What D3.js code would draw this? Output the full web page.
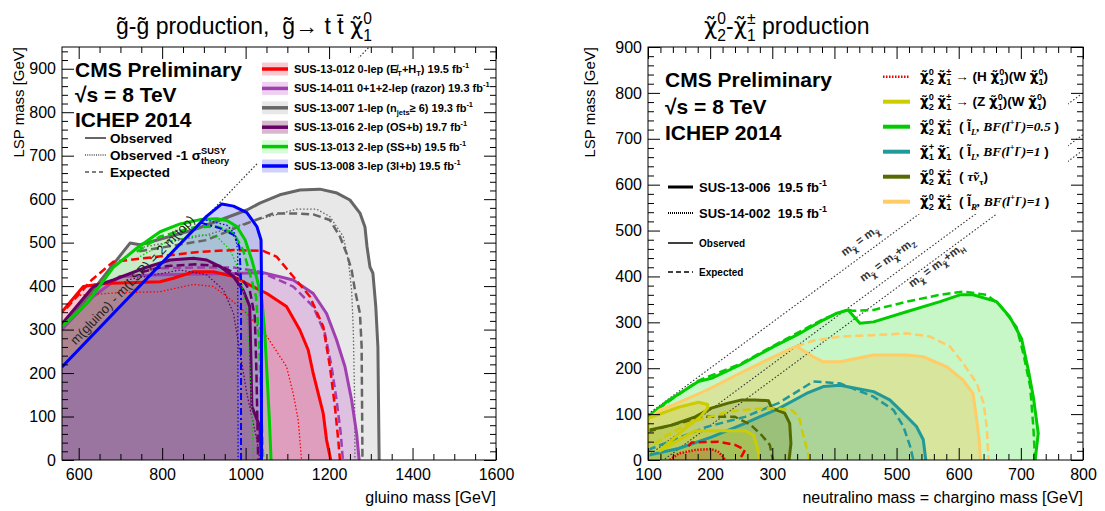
<!DOCTYPE html>
<html>
<head>
<meta charset="utf-8">
<script src="https://cdn.jsdelivr.net/npm/d3@7"></script>
<style>
  body { margin: 0; background: #fff; }
  svg { font-family: "Liberation Sans", Arial, sans-serif; }
</style>
</head>
<body>
<div id="chart"></div>
<script>
// ---------- data: gluino pair production (left) ----------
var leftXTicks = [600, 800, 1000, 1200, 1400, 1600];
var leftYTicks = [0, 100, 200, 300, 400, 500, 600, 700, 800, 900];
var twoTopMass = 346;   // m(gluino) - m(LSP) = 2 m(top)

var red13012Obs = [[560,341],[611,399],[659,406],[795,410],[827,418],[875,433],[923,433],[971,422],[1003,406],[1051,383],[1098,353],[1130,299],[1150,253],[1162,199],[1174,153],[1186,107],[1194,46],[1204,0]];
var red13012Exp = [[571,349],[631,414],[683,456],[755,464],[891,479],[971,483],[1042,481],[1074,468],[1114,422],[1154,376],[1186,307],[1202,215],[1214,123],[1222,46],[1226,0]];
var red13012Dot = [[603,379],[700,385],[795,387],[875,404],[923,399],[955,376],[1003,337],[1051,284],[1098,215],[1114,153],[1126,92],[1134,0]];

var razor14011Obs = [[560,301],[635,376],[699,422],[795,426],[971,429],[1042,431],[1114,414],[1162,383],[1194,337],[1218,276],[1238,215],[1254,138],[1266,61],[1272,0]];
var razor14011Exp = [[740,438],[795,441],[891,443],[971,443],[1034,433],[1114,399],[1162,353],[1190,291],[1206,215],[1218,138],[1228,61],[1233,0]];

var gray13007Obs = [[560,300],[723,499],[747,495],[874,529],[939,552],[1003,575],[1034,591],[1082,610],[1130,621],[1178,623],[1219,614],[1250,598],[1274,568],[1286,536],[1291,490],[1298,444],[1305,430],[1312,352],[1317,260],[1320,0]];
var gray13007Exp = [[745,480],[907,506],[1002,544],[1066,567],[1122,567],[1162,565],[1202,552],[1226,514],[1242,475],[1254,437],[1262,391],[1274,337],[1278,261],[1280,0]];
var gray13007Dot = [[747,488],[907,518],[1042,556],[1122,577],[1170,577],[1202,560],[1234,514],[1246,460],[1254,391],[1258,300],[1261,150],[1262,0]];

var os13016Obs = [[560,313],[635,399],[683,414],[755,441],[819,460],[875,464],[907,460],[939,445],[971,422],[994,391],[1010,353],[1012,261],[1015,123],[1034,77],[1038,0]];
var os13016Exp = [[750,432],[811,446],[880,450],[940,446],[985,425],[1010,390],[1022,330],[1026,200],[1030,0]];
var os13016Dot = [[715,414],[843,437],[907,426],[947,391],[971,337],[987,245],[1003,153],[1027,46],[1034,0]];

var ss13013Obs = [[560,307],[619,360],[683,443],[739,487],[795,525],[843,543],[891,553],[931,555],[955,551],[979,537],[999,506],[1015,460],[1028,414],[1039,368],[1046,291],[1052,184],[1057,92],[1061,0]];
var ss13013Exp = [[739,479],[795,514],[875,535],[931,537],[971,522],[994,483],[1010,429],[1025,376],[1033,261],[1038,107],[1042,0]];
var ss13013Dot = [[747,468],[811,502],[891,518],[931,514],[963,483],[987,429],[1003,337],[1012,184],[1019,0]];

var tri13008Obs = [[560,214],[907,561],[943,589],[971,584],[1003,569],[1027,537],[1037,506],[1038,414],[1038,0]];
var tri13008Exp = [[892,546],[939,533],[971,518],[985,491],[989,414],[989,0]];
var tri13008Dot = [[905,552],[955,540],[975,520],[981,480],[982,0]];

var leftLegendIds = ["SUS-13-012", "SUS-14-011", "SUS-13-007", "SUS-13-016", "SUS-13-013", "SUS-13-008"];
var leftLegendLumi = ["19.5", "19.3", "19.3", "19.7", "19.5", "19.5"];

// ---------- data: chargino-neutralino production (right) ----------
var rightXTicks = [100, 200, 300, 400, 500, 600, 700, 800];
var rightYTicks = [0, 100, 200, 300, 400, 500, 600, 700, 800, 900];
var diagOffsets = [0, 91, 125];   // m = m, m + mZ, m + mH

var slepLObs = [[100,94],[130,127],[181,171],[202,178],[248,207],[302,247],[339,272],[382,305],[404,320],[422,327],[441,298],[463,301],[516,323],[570,345],[602,360],[623,360],[661,345],[682,312],[701,265],[712,196],[720,138],[728,58],[723,0]];
var slepLExp = [[100,96],[181,173],[248,209],[302,249],[382,307],[422,328],[430,325],[463,327],[516,345],[570,360],[607,367],[645,360],[666,338],[693,290],[704,232],[715,160],[720,73],[723,0]];
var slepRObs = [[100,87],[119,109],[141,120],[194,152],[248,189],[302,225],[339,248],[366,225],[382,214],[409,214],[463,229],[516,229],[543,225],[581,203],[607,174],[623,145],[629,87],[633,44],[635,0]];
var slepRExp = [[339,248],[366,260],[409,269],[463,272],[516,276],[554,269],[586,247],[607,211],[629,167],[640,124],[645,73],[648,0]];
var charObs = [[100,10],[149,25],[202,50],[256,80],[310,112],[355,145],[382,160],[409,163],[436,156],[463,149],[489,131],[511,102],[532,73],[543,44],[547,0]];
var charExp = [[100,22],[194,72],[256,94],[310,124],[366,171],[409,167],[463,138],[495,109],[511,73],[522,29],[527,0]];
var tauObs = [[100,65],[138,76],[176,94],[202,113],[229,124],[251,131],[272,131],[294,129],[299,113],[320,102],[328,80],[330,36],[327,0]];
var tauExp = [[100,62],[149,80],[192,94],[216,94],[240,94],[264,78],[283,54],[296,33],[301,0]];
var wzObs = [[100,0],[100,91],[149,115],[181,126],[196,121],[196,113],[184,94],[154,62],[127,30],[119,20],[176,64],[256,64],[270,54],[277,22],[280,0]];
var wzExp = [[110,35],[127,51],[170,83],[229,105],[267,111],[299,113],[331,109],[343,94],[348,65],[354,33],[360,0]];
var whObs = [[135,0],[149,14],[176,22],[202,24],[213,18],[221,7],[224,0]];
var whExp = [[165,30],[170,38],[213,40],[240,33],[256,22],[251,9],[246,0]];

// ---------- drawing ----------
var svg = d3.select("#chart").append("svg").attr("width", 1105).attr("height", 511);
var GREEKFONT = "DejaVu Sans";
var CHI = {t: "\u03C7\u0303", f: GREEKFONT};
var SP2 = "\u00A0\u00A0";

// text with super/subscripts; {ss:[sup,sub]} stacks them
function rich(sel, parts, fs) {
  var cur = 0;
  parts.forEach(function(p) {
    if (typeof p === "string") p = {t: p};
    if (p.ss) {
      var t1 = sel.append("tspan").text(p.ss[0]).attr("font-size", fs * 0.68).attr("dy", -0.45 * fs - cur);
      var w = t1.node().getComputedTextLength();
      sel.append("tspan").text(p.ss[1]).attr("font-size", fs * 0.68).attr("dx", -w).attr("dy", 0.75 * fs);
      cur = 0.3 * fs;
      return;
    }
    var target = p.s === "sup" ? -0.45 * fs : p.s === "sub" ? 0.3 * fs : 0;
    var ts = sel.append("tspan").text(p.t).attr("dy", target - cur);
    if (p.s) ts.attr("font-size", fs * 0.68);
    if (p.f) ts.attr("font-family", p.f);
    if (p.i) ts.attr("font-style", "italic");
    if (p.w) ts.attr("font-weight", p.w);
    cur = target;
  });
}

function frame(g, x, y, xMajor, xStep, yMajor, yStep) {
  var xr = x.range(), yr = y.range(), xd = x.domain(), yd = y.domain();
  var xMinor = d3.range(Math.ceil(xd[0] / xStep) * xStep, xd[1] + 1e-6, xStep).filter(function(v) { return xMajor.indexOf(v) < 0; });
  var yMinor = d3.range(Math.ceil(yd[0] / yStep) * yStep, yd[1] + 1e-6, yStep).filter(function(v) { return yMajor.indexOf(v) < 0; });
  function add(axis, tr, vals, size, labels, pad) {
    var a = g.append("g").attr("transform", tr)
      .call(axis.tickValues(vals).tickSize(-size).tickPadding(pad || 3)
        .tickFormat(labels ? d3.format("d") : function() { return ""; }));
    a.select(".domain").remove();
    a.attr("font-size", 16).attr("font-family", null);
    a.selectAll("line").attr("stroke", "#000");
    a.selectAll("text").attr("fill", "#000");
  }
  add(d3.axisBottom(x), "translate(0," + yr[0] + ")", xMajor, 12, true, 9);
  add(d3.axisBottom(x), "translate(0," + yr[0] + ")", xMinor, 6, false);
  add(d3.axisTop(x), "translate(0," + yr[1] + ")", xMajor, 12, false);
  add(d3.axisTop(x), "translate(0," + yr[1] + ")", xMinor, 6, false);
  add(d3.axisLeft(y), "translate(" + xr[0] + ",0)", yMajor, 12, true, 6);
  add(d3.axisLeft(y), "translate(" + xr[0] + ",0)", yMinor, 6, false);
  add(d3.axisRight(y), "translate(" + xr[1] + ",0)", yMajor, 12, false);
  add(d3.axisRight(y), "translate(" + xr[1] + ",0)", yMinor, 6, false);
  g.append("rect").attr("x", xr[0]).attr("y", yr[1]).attr("width", xr[1] - xr[0]).attr("height", yr[0] - yr[1])
    .attr("fill", "none").attr("stroke", "#000").attr("stroke-width", 1);
}

var dashes = {obs: null, exp: "8,4", dot: "1.5,2", dashdot: "7,3,2,3"};

function fillArea(p, line, pts, x0, color, op) {
  var closed = x0 == null ? pts : pts.concat([[x0, 0], [x0, pts[0][1]]]);
  p.append("path").attr("d", line(closed) + "Z").attr("fill", color).attr("fill-opacity", op).attr("stroke", "none");
}
function stroke(p, line, pts, color, kind, w) {
  p.append("path").attr("d", line(pts)).attr("fill", "none").attr("stroke", color)
    .attr("stroke-width", w).attr("stroke-dasharray", dashes[kind]).attr("stroke-linejoin", "round");
}

// ===== left panel =====
var xL = d3.scaleLinear().domain([560, 1600]).range([62, 496]);
var yL = d3.scaleLinear().domain([0, 950]).range([460, 47]);
var lineL = d3.line().x(function(d) { return xL(d[0]); }).y(function(d) { return yL(d[1]); });
var gL = svg.append("g");
gL.append("clipPath").attr("id", "clipL").append("rect")
  .attr("x", 62).attr("y", 47).attr("width", 434).attr("height", 413);
var pL = gL.append("g").attr("clip-path", "url(#clipL)");

var colL = {red: "#ff0000", razor: "#a040b0", gray: "#666666", os: "#660066", ss: "#00cc00", tri: "#0000ff"};
var fillL = {red: "rgb(230,80,110)", razor: "rgb(200,100,210)", gray: "rgb(200,200,200)", os: "rgb(130,40,100)", ss: "rgb(100,245,100)", tri: "rgb(100,100,245)"};
var opL = {red: 0.3, razor: 0.3, gray: 0.42, os: 0.33, ss: 0.25, tri: 0.3};

fillArea(pL, lineL, gray13007Obs, 560, fillL.gray, opL.gray);
fillArea(pL, lineL, razor14011Obs, 560, fillL.razor, opL.razor);
fillArea(pL, lineL, red13012Obs, 560, fillL.red, opL.red);
fillArea(pL, lineL, ss13013Obs, 560, fillL.ss, opL.ss);
fillArea(pL, lineL, tri13008Obs, 560, fillL.tri, opL.tri);
fillArea(pL, lineL, os13016Obs, 560, fillL.os, opL.os);

// kinematic limit
stroke(pL, lineL, [[560, 560 - twoTopMass], [950 + twoTopMass, 950]], "#333", "dot", 1.2);

stroke(pL, lineL, gray13007Dot, colL.gray, "dot", 1.3);
stroke(pL, lineL, gray13007Exp, colL.gray, "exp", 2.5);
stroke(pL, lineL, gray13007Obs, colL.gray, "obs", 3);
stroke(pL, lineL, razor14011Exp, colL.razor, "exp", 2.5);
stroke(pL, lineL, razor14011Obs, colL.razor, "obs", 3);
stroke(pL, lineL, red13012Dot, colL.red, "dot", 1.3);
stroke(pL, lineL, red13012Exp, colL.red, "exp", 2.5);
stroke(pL, lineL, red13012Obs, colL.red, "obs", 3);
stroke(pL, lineL, os13016Dot, colL.os, "dot", 1.3);
stroke(pL, lineL, os13016Exp, colL.os, "exp", 2.5);
stroke(pL, lineL, os13016Obs, colL.os, "obs", 3);
stroke(pL, lineL, ss13013Dot, colL.ss, "dot", 1.3);
stroke(pL, lineL, ss13013Exp, colL.ss, "exp", 2.5);
stroke(pL, lineL, ss13013Obs, colL.ss, "obs", 3);
stroke(pL, lineL, tri13008Dot, colL.tri, "dot", 1.3);
stroke(pL, lineL, tri13008Exp, colL.tri, "dashdot", 2);
stroke(pL, lineL, tri13008Obs, colL.tri, "obs", 3);

// label along the kinematic limit
(function() {
  var ax = 745, ay = ax - twoTopMass;
  var ang = Math.atan2(yL(ay + 100) - yL(ay), xL(ax + 100) - xL(ax)) * 180 / Math.PI;
  pL.append("text").attr("transform", "translate(" + xL(ax) + "," + yL(ay) + ") rotate(" + ang + ") translate(0,-5)")
    .attr("text-anchor", "middle").attr("font-size", 13).attr("fill", "#222")
    .text("m(gluino) - m(LSP) = 2 m(top)");
})();

// legend box (covers the diagonal)
gL.append("rect").attr("x", 258).attr("y", 58).attr("width", 236).attr("height", 118).attr("fill", "#fff");

frame(gL, xL, yL, leftXTicks, 50, leftYTicks, 20);

// analysis legend
var keysL = ["red", "razor", "gray", "os", "ss", "tri"];
var descL = [
  [" 0-lep (", "E\u0338", {t: "T", s: "sub"}, "+H", {t: "T", s: "sub"}, ")"],
  [" 0+1+2-lep (razor)"],
  [" 1-lep (n", {t: "jets", s: "sub"}, "\u2265 6)"],
  [" 2-lep (OS+b)"],
  [" 2-lep (SS+b)"],
  [" 3-lep (3l+b)"]
];
keysL.forEach(function(k, i) {
  var cy = 69 + i * 19.4;
  gL.append("rect").attr("x", 262).attr("y", cy - 6.5).attr("width", 26).attr("height", 13)
    .attr("fill", fillL[k]).attr("fill-opacity", opL[k]);
  gL.append("line").attr("x1", 262).attr("x2", 288).attr("y1", cy).attr("y2", cy)
    .attr("stroke", colL[k]).attr("stroke-width", 3.5);
  var t = gL.append("text").attr("x", 294).attr("y", cy + 4).attr("font-size", 11).attr("font-weight", "bold");
  rich(t, [leftLegendIds[i]].concat(descL[i]).concat([" " + leftLegendLumi[i] + " fb", {t: "-1", s: "sup"}]), 11);
});

gL.append("text").attr("x", 75).attr("y", 77).attr("font-size", 21).attr("font-weight", "bold").text("CMS Preliminary");
gL.append("text").attr("x", 75).attr("y", 102).attr("font-size", 21).attr("font-weight", "bold").text("\u221As = 8 TeV");
gL.append("text").attr("x", 75).attr("y", 127).attr("font-size", 21).attr("font-weight", "bold").text("ICHEP 2014");
[["obs", 138], ["dot", 155], ["exp", 172]].forEach(function(r) {
  gL.append("line").attr("x1", 85).attr("x2", 106).attr("y1", r[1]).attr("y2", r[1]).attr("stroke", "#000")
    .attr("stroke-width", 1.2).attr("stroke-dasharray", r[0] === "exp" ? "4,3" : r[0] === "dot" ? "1,1.2" : null);
});
gL.append("text").attr("x", 110).attr("y", 143).attr("font-size", 13.5).attr("font-weight", "bold").text("Observed");
rich(gL.append("text").attr("x", 110).attr("y", 160).attr("font-size", 13.5).attr("font-weight", "bold"),
  ["Observed -1 \u03C3", {ss: ["SUSY", "theory"]}], 13.5);
gL.append("text").attr("x", 110).attr("y", 177).attr("font-size", 13.5).attr("font-weight", "bold").text("Expected");

rich(svg.append("text").attr("x", 116).attr("y", 34).attr("font-size", 23),
  ["g\u0303-g\u0303 production," + SP2 + "g\u0303\u2192 t t\u0304 ", CHI, {ss: ["0", "1"]}], 23);
svg.append("text").attr("transform", "translate(24,47) rotate(-90)").attr("text-anchor", "end")
  .attr("font-size", 15).text("LSP mass [GeV]");
svg.append("text").attr("x", 496).attr("y", 503).attr("text-anchor", "end").attr("font-size", 16).text("gluino mass [GeV]");

// ===== right panel =====
var xR = d3.scaleLinear().domain([100, 800]).range([648, 1083]);
var yR = d3.scaleLinear().domain([0, 900]).range([460, 47]);
var lineR = d3.line().x(function(d) { return xR(d[0]); }).y(function(d) { return yR(d[1]); });
var gR = svg.append("g");
gR.append("clipPath").attr("id", "clipR").append("rect")
  .attr("x", 648).attr("y", 47).attr("width", 435).attr("height", 413);
var pR = gR.append("g").attr("clip-path", "url(#clipR)");

var colR = {wh: "#ee0000", wz: "#cccc00", slepL: "#00cc00", chr: "#229999", tau: "#556b00", slepR: "#ffcc66"};
fillArea(pR, lineR, slepLObs, 100, "rgb(0,220,0)", 0.22);
fillArea(pR, lineR, slepRObs, 100, "rgb(255,190,60)", 0.3);
fillArea(pR, lineR, charObs, 100, "rgb(40,160,140)", 0.25);
fillArea(pR, lineR, tauObs, 100, "rgb(85,120,0)", 0.2);
fillArea(pR, lineR, wzObs, 100, "rgb(200,200,0)", 0.25);
fillArea(pR, lineR, whObs, null, "rgb(200,90,30)", 0.3);

diagOffsets.forEach(function(o) {
  stroke(pR, lineR, [[100, 100 - o], [800, 800 - o]], "#333", "dot", 1.1);
});

stroke(pR, lineR, slepLExp, colR.slepL, "exp", 2.5);
stroke(pR, lineR, slepLObs, colR.slepL, "obs", 3);
stroke(pR, lineR, slepRExp, colR.slepR, "exp", 2.5);
stroke(pR, lineR, slepRObs, colR.slepR, "obs", 3);
stroke(pR, lineR, charExp, colR.chr, "exp", 2.5);
stroke(pR, lineR, charObs, colR.chr, "obs", 3);
stroke(pR, lineR, tauExp, colR.tau, "exp", 2.5);
stroke(pR, lineR, tauObs, colR.tau, "obs", 3);
stroke(pR, lineR, wzExp, colR.wz, "exp", 2.5);
stroke(pR, lineR, wzObs, colR.wz, "obs", 3);
stroke(pR, lineR, whExp, colR.wh, "exp", 2.5);
pR.append("path").attr("d", lineR(whObs)).attr("fill", "none").attr("stroke", colR.wh)
  .attr("stroke-width", 2.5).attr("stroke-dasharray", "1.5,1.5");

// diagonal labels
var diagAnchors = [454, 500, 559];
var diagShift = [-10, -12, 9];
var angR = Math.atan2(yR(200) - yR(100), xR(200) - xR(100)) * 180 / Math.PI;
diagOffsets.forEach(function(o, i) {
  var ax = diagAnchors[i];
  var t = pR.append("text").attr("transform", "translate(" + xR(ax) + "," + yR(ax - o) + ") rotate(" + angR + ") translate(0," + diagShift[i] + ")")
    .attr("text-anchor", "middle").attr("font-size", 11.5).attr("font-weight", "bold").attr("fill", "#333");
  var chiSub = {t: "\u03C7\u0303", s: "sub", f: GREEKFONT};
  var parts = ["m", chiSub, " = m", chiSub];
  if (i === 1) parts = parts.concat(["+m", {t: "Z", s: "sub"}]);
  if (i === 2) parts = parts.concat(["+m", {t: "H", s: "sub"}]);
  rich(t, parts, 11.5);
});

gR.append("rect").attr("x", 878).attr("y", 58).attr("width", 190).attr("height", 156).attr("fill", "#fff");

frame(gR, xR, yR, rightXTicks, 20, rightYTicks, 20);

var SERIF = "Liberation Serif";
function slep(sub, bf) {
  return [SP2 + "( ", {t: "l\u0303", f: SERIF}, {t: sub, s: "sub", f: SERIF, i: true}, {t: ", BF(l", f: SERIF, i: true},
    {t: "+", s: "sup", f: SERIF}, {t: "l", f: SERIF, i: true}, {t: "-", s: "sup", f: SERIF}, {t: ")=" + bf, f: SERIF, i: true}, " )"];
}
var n2c1 = [CHI, {ss: ["0", "2"]}, " ", CHI, {ss: ["\u00B1", "1"]}];
var descR = [
  n2c1.concat([" \u2192 (H ", CHI, {ss: ["0", "1"]}, ")(W ", CHI, {ss: ["0", "1"]}, ")"]),
  n2c1.concat([" \u2192 (Z ", CHI, {ss: ["0", "1"]}, ")(W ", CHI, {ss: ["0", "1"]}, ")"]),
  n2c1.concat(slep("L", "0.5")),
  [CHI, {ss: ["+", "1"]}, " ", CHI, {ss: ["-", "1"]}].concat(slep("L", "1")),
  n2c1.concat([SP2 + "( ", {t: "\u03C4\u0303\u03BD", f: SERIF, i: true}, {t: "\u03C4", s: "sub", f: SERIF}, ")"]),
  n2c1.concat(slep("R", "1"))
];
var keysR = ["wh", "wz", "slepL", "chr", "tau", "slepR"];
keysR.forEach(function(k, i) {
  var cy = 76.7 + i * 25;
  gR.append("line").attr("x1", 883).attr("x2", 910).attr("y1", cy).attr("y2", cy)
    .attr("stroke", colR[k]).attr("stroke-width", k === "wh" ? 2.5 : 4)
    .attr("stroke-dasharray", k === "wh" ? "1.5,1.5" : null);
  rich(gR.append("text").attr("x", 920).attr("y", cy + 4).attr("font-size", 13.5).attr("font-weight", "bold"), descR[i], 13.5);
});

gR.append("text").attr("x", 665).attr("y", 87).attr("font-size", 21).attr("font-weight", "bold").text("CMS Preliminary");
gR.append("text").attr("x", 665).attr("y", 114).attr("font-size", 21).attr("font-weight", "bold").text("\u221As = 8 TeV");
gR.append("text").attr("x", 665).attr("y", 140).attr("font-size", 21).attr("font-weight", "bold").text("ICHEP 2014");

gR.append("line").attr("x1", 668).attr("x2", 693).attr("y1", 187).attr("y2", 187).attr("stroke", "#000").attr("stroke-width", 3);
gR.append("line").attr("x1", 668).attr("x2", 693).attr("y1", 213).attr("y2", 213).attr("stroke", "#000").attr("stroke-width", 2).attr("stroke-dasharray", "1,1");
rich(gR.append("text").attr("x", 699).attr("y", 192).attr("font-size", 13).attr("font-weight", "bold"), ["SUS-13-006" + SP2 + "19.5 fb", {t: "-1", s: "sup"}], 13);
rich(gR.append("text").attr("x", 699).attr("y", 218).attr("font-size", 13).attr("font-weight", "bold"), ["SUS-14-002" + SP2 + "19.5 fb", {t: "-1", s: "sup"}], 13);
gR.append("line").attr("x1", 668).attr("x2", 693).attr("y1", 243).attr("y2", 243).attr("stroke", "#000").attr("stroke-width", 1.5);
gR.append("line").attr("x1", 668).attr("x2", 693).attr("y1", 272).attr("y2", 272).attr("stroke", "#000").attr("stroke-width", 1.5).attr("stroke-dasharray", "5,3");
gR.append("text").attr("x", 699).attr("y", 247).attr("font-size", 10).attr("font-weight", "bold").text("Observed");
gR.append("text").attr("x", 699).attr("y", 276).attr("font-size", 10).attr("font-weight", "bold").text("Expected");

rich(svg.append("text").attr("x", 704).attr("y", 34).attr("font-size", 23),
  [CHI, {ss: ["0", "2"]}, "-", CHI, {ss: ["\u00B1", "1"]}, " production"], 23);
svg.append("text").attr("transform", "translate(595,47) rotate(-90)").attr("text-anchor", "end")
  .attr("font-size", 15).text("LSP mass [GeV]");
svg.append("text").attr("x", 1083).attr("y", 503).attr("text-anchor", "end").attr("font-size", 16)
  .text("neutralino mass = chargino mass [GeV]");
</script>
</body>
</html>
